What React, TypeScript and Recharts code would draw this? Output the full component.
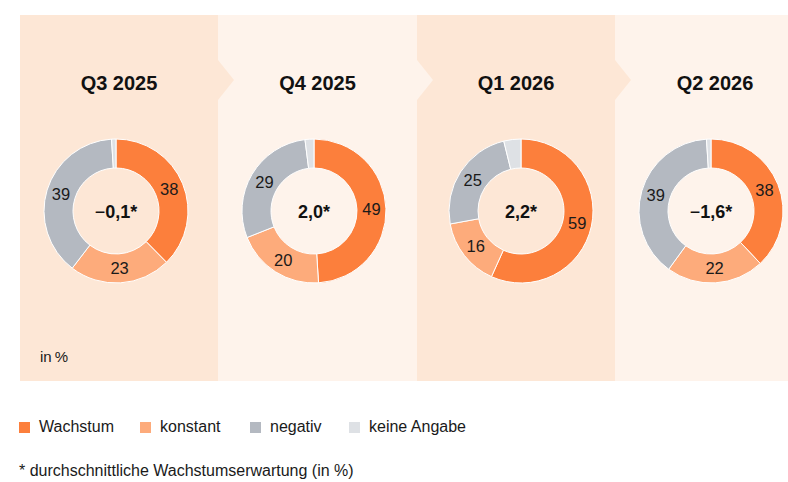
import React from 'react';
import { PieChart, Pie, Cell, Legend } from 'recharts';

const categories = ['Wachstum', 'konstant', 'negativ', 'keine Angabe'];
const quarters = ['Q3 2025', 'Q4 2025', 'Q1 2026', 'Q2 2026'];
const wachstum = [38, 49, 59, 38];
const konstant = [23, 20, 16, 22];
const negativ = [39, 29, 25, 39];
const keineAngabe = [1, 2, 4, 1];
const averages = [-0.1, 2.0, 2.2, -1.6];
const unitLabel = 'in\u2009%';
const footnote = '* durchschnittliche Wachstumserwartung (in %)';

const COLORS = ['#fc7f3c', '#fdab7b', '#b4b9c1', '#dee1e5'];
const PANEL_DARK = '#fde7d6';
const PANEL_LIGHT = '#fef3eb';
const FONT = '"Liberation Sans", Arial, sans-serif';

const W = 788;
const H = 482;
const panelX = [20, 218, 417, 615, 788];
const panelTop = 15;
const panelBottom = 381;
const centersX = [116, 314, 521, 711];
const centerY = 211;
const INNER = 43;
const OUTER = 72;
const legendX = [0, 121, 231, 330];

const pieData = quarters.map((q, i) => [
  { name: categories[0], value: wachstum[i] },
  { name: categories[1], value: konstant[i] },
  { name: categories[2], value: negativ[i] },
  { name: categories[3], value: keineAngabe[i] },
]);

const RAD = Math.PI / 180;
const renderLabel = (props: any) => {
  const { cx, cy, midAngle, innerRadius, outerRadius, value, name, index } = props;
  if (name === categories[3] || index === 3) return null;
  const r = (innerRadius + outerRadius) / 2;
  const x = cx + r * Math.cos(-midAngle * RAD);
  const y = cy + r * Math.sin(-midAngle * RAD);
  return (
    <text x={x} y={y} textAnchor="middle" dominantBaseline="central" fill="#1a1a1a" fontSize={16.5} fontFamily={FONT}>
      {value}
    </text>
  );
};

const fmt = (v: number) => {
  const s = Math.abs(v).toFixed(1).replace('.', ',');
  return { minus: v < 0, body: s + '*' };
};

const LegendContent = () => (
  <div style={{ position: 'relative', height: 20, fontFamily: FONT, fontSize: 16, color: '#1a1a1a' }}>
    {categories.map((c, i) => (
      <div key={c} style={{ position: 'absolute', left: legendX[i], top: 0, display: 'flex', alignItems: 'center', height: 20, whiteSpace: 'nowrap' }}>
        <div style={{ width: 11, height: 11, background: COLORS[i], marginRight: 9 }} />
        <span>{c}</span>
      </div>
    ))}
  </div>
);

export default function App() {
  return (
    <div style={{ position: 'absolute', left: 0, top: 0, width: W, height: H, background: '#fff', fontFamily: FONT }}>
      <svg width={W} height={H} style={{ position: 'absolute', left: 0, top: 0 }}>
        {quarters.map((q, i) => (
          <rect key={q} x={panelX[i]} y={panelTop} width={panelX[i + 1] - panelX[i]} height={panelBottom - panelTop}
            fill={i % 2 === 0 ? PANEL_DARK : PANEL_LIGHT} />
        ))}
        {[1, 2, 3].map((i) => (
          <polygon key={i} points={`${panelX[i]},60 ${panelX[i] + 16},80 ${panelX[i]},100`}
            fill={(i - 1) % 2 === 0 ? PANEL_DARK : PANEL_LIGHT} />
        ))}
      </svg>
      <div style={{ position: 'absolute', left: 0, top: 0 }}>
        <PieChart width={W} height={H} margin={{ top: 0, right: 0, bottom: 0, left: 0 }}>
          {pieData.map((d, i) => (
            <Pie key={quarters[i]} data={d} dataKey="value" nameKey="name" cx={centersX[i]} cy={centerY}
              innerRadius={INNER} outerRadius={OUTER} startAngle={90} endAngle={-270}
              stroke="#ffffff" strokeWidth={1} label={renderLabel} labelLine={false} isAnimationActive={false}>
              {d.map((e, j) => (
                <Cell key={e.name} fill={COLORS[j]} />
              ))}
            </Pie>
          ))}
          <Legend verticalAlign="bottom" content={<LegendContent />}
            wrapperStyle={{ position: 'absolute', left: 19, top: 417, bottom: 'auto', width: 700, height: 20 }} />
        </PieChart>
      </div>
      <svg width={W} height={H} style={{ position: 'absolute', left: 0, top: 0, pointerEvents: 'none' }}>
        {quarters.map((q, i) => (
          <text key={q} x={(panelX[i] + (i === 3 ? 815 : panelX[i + 1])) / 2} y={90} textAnchor="middle"
            fontSize={20} fontWeight="bold" fill="#111" fontFamily={FONT}>{q}</text>
        ))}
        {averages.map((v, i) => {
          const f = fmt(v);
          return (
            <text key={i} x={centersX[i]} y={centerY + 6.5} textAnchor="middle" fontSize={18} fill="#111" fontFamily={FONT}>
              {f.minus ? <tspan fontWeight="normal">{'\u2212'}</tspan> : null}
              <tspan fontWeight="bold">{f.body}</tspan>
            </text>
          );
        })}
        <text x={40} y={362} fontSize={15} fill="#1a1a1a" fontFamily={FONT}>{unitLabel}</text>
        <text x={19} y={476} fontSize={16} fill="#1a1a1a" fontFamily={FONT}>{footnote}</text>
      </svg>
    </div>
  );
}
